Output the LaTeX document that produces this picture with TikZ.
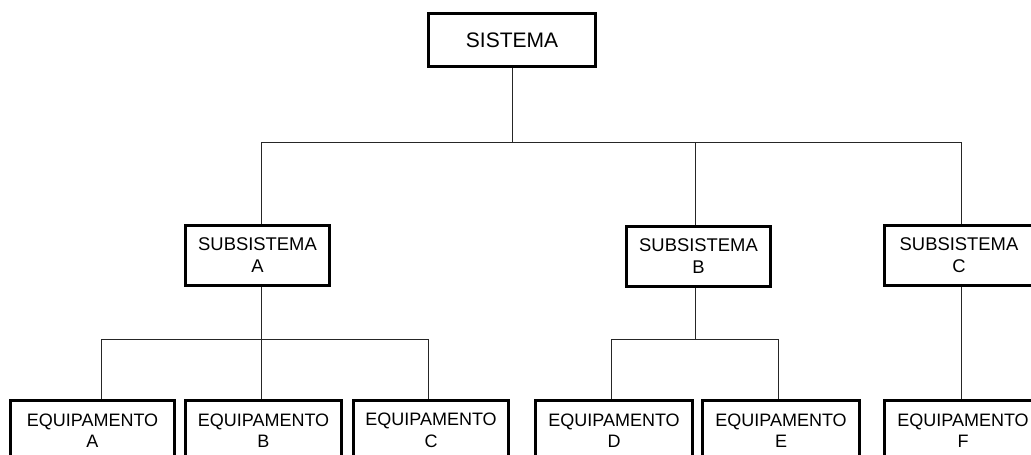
\documentclass[tikz,border=0pt]{standalone}
\usepackage{fontspec}
\setmainfont{Liberation Sans}
\begin{document}
\begin{tikzpicture}[x=1pt,y=-1pt,
  boxstyle/.style={draw=black, line width=3pt, fill=white, inner sep=0pt, align=center},
  topbox/.style={boxstyle, minimum width=167pt, minimum height=53pt, font=\fontsize{21}{25}\selectfont},
  subbox/.style={boxstyle, minimum width=144pt, minimum height=60pt, font=\fontsize{18.4}{22}\selectfont},
  eqbox/.style={boxstyle, minimum height=60pt, font=\fontsize{18}{21.5}\selectfont},
  conn/.style={draw=black!85, line width=1pt}]
\useasboundingbox (0,0) rectangle (1031,455);
\clip (0,0) rectangle (1031,455);
\fill[white] (0,0) rectangle (1031,455);

% junction coordinates
\coordinate (ja) at (261,142);
\coordinate (jb) at (695,142);
\coordinate (jc) at (961,142);
\coordinate (ka) at (101,339);
\coordinate (kb) at (261,339);
\coordinate (kc) at (428,339);
\coordinate (kd) at (611,339);
\coordinate (ke) at (695,339);
\coordinate (kf) at (778,339);

% connectors (drawn first, boxes on top)
\draw[conn] (512,68) -- (512,142);
\draw[conn] (ja) -- (jc);
\draw[conn] (ja) -- (261,226);
\draw[conn] (jb) -- (695,226);
\draw[conn] (jc) -- (961,226);
\draw[conn] (261,286) -- (kb);
\draw[conn] (ka) -- (kc);
\draw[conn] (ka) -- (101,400);
\draw[conn] (kb) -- (261,400);
\draw[conn] (kc) -- (428,400);
\draw[conn] (695,286) -- (ke);
\draw[conn] (kd) -- (kf);
\draw[conn] (kd) -- (611,400);
\draw[conn] (kf) -- (778,400);
\draw[conn] (961,286) -- (961,400);

% nodes
\node[topbox] (sis) at (512,40) {SISTEMA};
\node[subbox] (sa) at (257.5,255.5) {SUBSISTEMA\\A};
\node[subbox] (sb) at (698.5,256) {SUBSISTEMA\\B};
\node[subbox, minimum width=149pt] (sc) at (959,255.5) {SUBSISTEMA\\C};

\node[eqbox, minimum width=164pt] (ea) at (92.5,430.5) {EQUIPAMENTO\\A};
\node[eqbox, minimum width=156pt] (eb) at (263.5,430.5) {EQUIPAMENTO\\B};
\node[eqbox, minimum width=155pt] (ec) at (431,430.5) {EQUIPAMENTO\\C};
\node[eqbox, minimum width=157pt] (ed) at (614,430.5) {EQUIPAMENTO\\D};
\node[eqbox, minimum width=157pt] (ee) at (781,430.5) {EQUIPAMENTO\\E};
\node[eqbox, minimum width=157pt] (ef) at (963,430.5) {EQUIPAMENTO\\F};
\end{tikzpicture}
\end{document}
